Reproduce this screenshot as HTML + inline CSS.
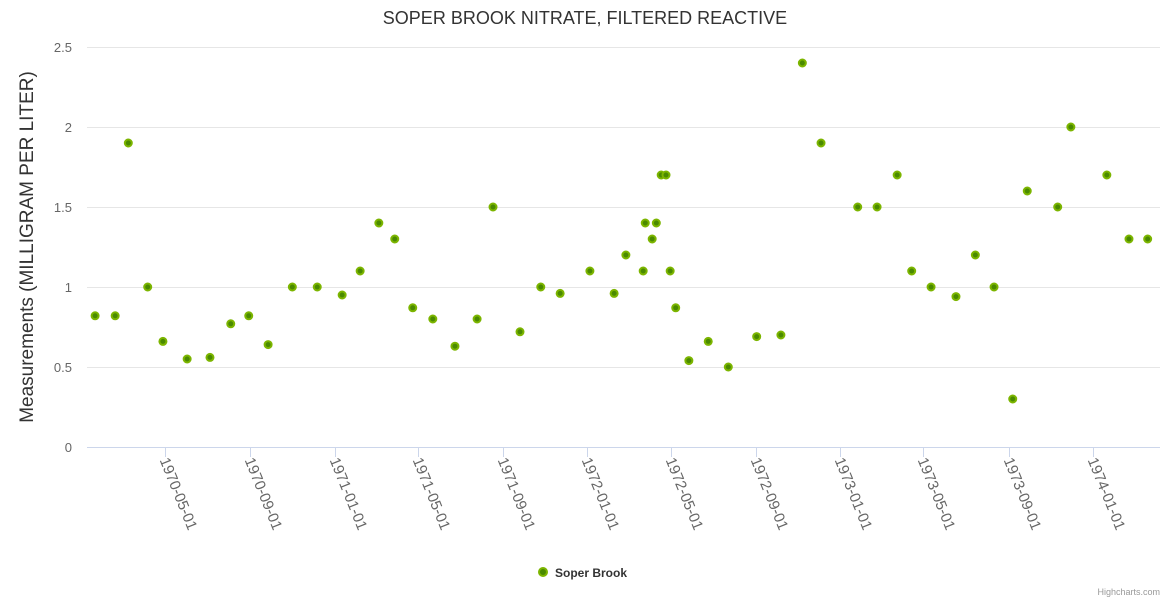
<!DOCTYPE html>
<html><head><meta charset="utf-8"><style>
body{margin:0;background:#fff;font-family:"Liberation Sans",sans-serif;}
svg{display:block}
</style></head><body>
<svg id="chart" width="1170" height="600">
<text x="585" y="24" text-anchor="middle" font-size="18" fill="#333">SOPER BROOK NITRATE, FILTERED REACTIVE</text>
<text transform="translate(33,247) rotate(-90)" text-anchor="middle" font-size="19" fill="#333">Measurements (MILLIGRAM PER LITER)</text>
<g id="grid"></g><g id="xaxis"></g><g id="pts"></g>
<g>
<circle cx="543" cy="572" r="4" fill="#4a8a00" stroke="#7cb500" stroke-width="2"/>
<text x="555" y="577" font-size="12" font-weight="bold" fill="#333">Soper Brook</text>
</g>
<text x="1160" y="595" text-anchor="end" font-size="9" fill="#999">Highcharts.com</text>
</svg>
<script>
const dates=["1970-01-20","1970-02-18","1970-03-09","1970-04-06","1970-04-28","1970-06-02","1970-07-05","1970-08-04","1970-08-30","1970-09-27","1970-11-01","1970-12-07","1971-01-12","1971-02-07","1971-03-06","1971-03-29","1971-04-24","1971-05-23","1971-06-24","1971-07-26","1971-08-18","1971-09-26","1971-10-26","1971-11-23","1972-01-05","1972-02-09","1972-02-26","1972-03-22","1972-03-25","1972-04-04","1972-04-10","1972-04-17","1972-04-24","1972-04-30","1972-05-08","1972-05-27","1972-06-24","1972-07-23","1972-09-02","1972-10-07","1972-11-07","1972-12-04","1973-01-26","1973-02-23","1973-03-24","1973-04-14","1973-05-12","1973-06-17","1973-07-15","1973-08-11","1973-09-07","1973-09-28","1973-11-11","1973-11-30","1974-01-21","1974-02-22","1974-03-21"];
const values=[0.82,0.82,1.9,1.0,0.66,0.55,0.56,0.77,0.82,0.64,1.0,1.0,0.95,1.1,1.4,1.3,0.87,0.8,0.63,0.8,1.5,0.72,1.0,0.96,1.1,0.96,1.2,1.1,1.4,1.3,1.4,1.7,1.7,1.1,0.87,0.54,0.66,0.5,0.69,0.7,2.4,1.9,1.5,1.5,1.7,1.1,1.0,0.94,1.2,1.0,0.3,1.6,1.5,2.0,1.7,1.3,1.3];
const yTicks=[0,0.5,1,1.5,2,2.5];
const xTicks=["1970-05-01","1970-09-01","1971-01-01","1971-05-01","1971-09-01","1972-01-01","1972-05-01","1972-09-01","1973-01-01","1973-05-01","1973-09-01","1974-01-01"];
const NS="http://www.w3.org/2000/svg";
const d0=Date.parse("1970-05-01"),d1=Date.parse("1974-01-01");
function xs(s){return 165+(Date.parse(s)-d0)/(d1-d0)*928;}
function ys(v){return 447-v*160;}
function mk(t,a,p){const e=document.createElementNS(NS,t);for(const k in a)e.setAttribute(k,a[k]);p.appendChild(e);return e;}
const g=document.getElementById('grid');
yTicks.forEach(v=>{
 const l=mk('line',{x1:87,x2:1160,y1:ys(v)+0.5,y2:ys(v)+0.5,stroke:v===0?'#ccd6eb':'#e6e6e6'},g);
 
 
 const t=mk('text',{x:72,y:ys(v)+5,'text-anchor':'end','font-size':13,fill:'#666'},g);t.textContent=String(v);
 
 
});
const xa=document.getElementById('xaxis');
xTicks.forEach(s=>{
 const x=Math.round(xs(s))+0.5;
 const l=mk('line',{x1:x,x2:x,y1:447,y2:457,stroke:'#ccd6eb'},xa);
 
 
 const t=mk('text',{x:0,y:0,'font-size':15,fill:'#666',transform:`translate(${x-6},${460}) rotate(68)`},xa);t.textContent=s;
 
 
});
const p=document.getElementById('pts');
dates.forEach((s,i)=>{
 const c=mk('circle',{cx:xs(s),cy:ys(values[i]),r:3.5,fill:'#4a8a00',stroke:'#7cb500','stroke-width':2},p);
 
 
});
</script>
</body></html>
